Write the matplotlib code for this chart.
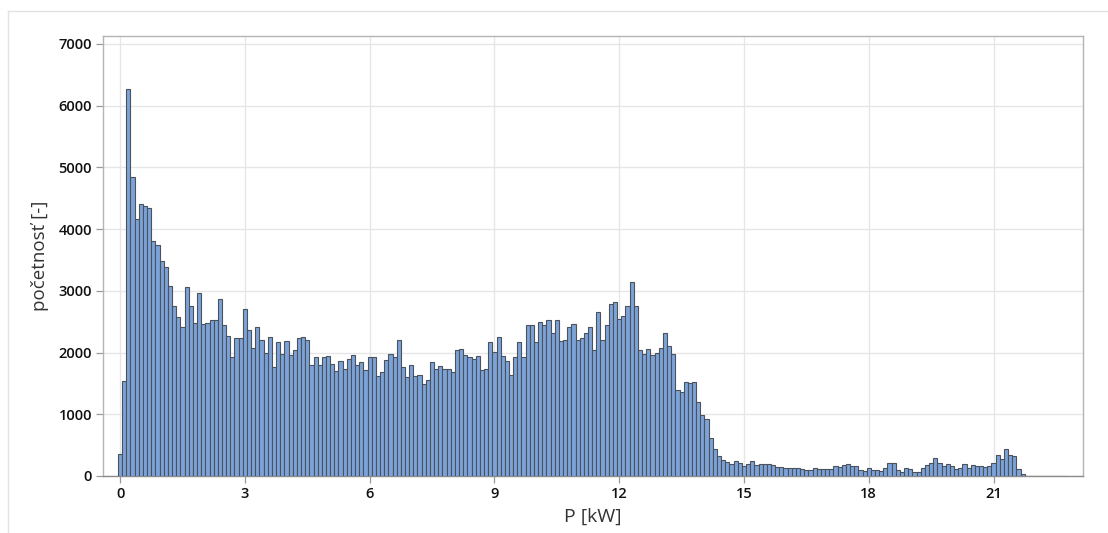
import numpy as np
import matplotlib
matplotlib.use("Agg")
import matplotlib.pyplot as plt
from matplotlib.lines import Line2D

plt.rcParams['font.family'] = ['Open Sans', 'DejaVu Sans']

# Histogram of power P [kW], bins 0.1 kW wide, centred on multiples of 0.1
bin_width = 0.1
counts = [
    360, 1540, 6270, 4850, 4170, 4410, 4380, 4350, 3800, 3740,
    3480, 3390, 3080, 2750, 2570, 2410, 3060, 2750, 2480, 2960,
    2470, 2480, 2520, 2520, 2870, 2440, 2270, 1930, 2230, 2230,
    2700, 2360, 2070, 2410, 2200, 2000, 2250, 1770, 2170, 1980,
    2190, 1960, 2040, 2240, 2260, 2210, 1800, 1920, 1800, 1930,
    1950, 1810, 1700, 1860, 1730, 1890, 1960, 1800, 1840, 1720,
    1930, 1920, 1620, 1680, 1880, 1980, 1920, 2200, 1770, 1600,
    1800, 1620, 1630, 1490, 1560, 1840, 1740, 1780, 1730, 1730,
    1680, 2040, 2050, 1960, 1920, 1900, 1940, 1710, 1740, 2170,
    2010, 2250, 1940, 1860, 1640, 1930, 2170, 1930, 2440, 2440,
    2170, 2490, 2440, 2520, 2320, 2520, 2190, 2200, 2410, 2470,
    2210, 2230, 2310, 2420, 2040, 2650, 2210, 2440, 2780, 2820,
    2550, 2590, 2750, 3140, 2760, 2040, 1980, 2050, 1960, 2000,
    2070, 2310, 2110, 1970, 1390, 1360, 1530, 1510, 1520, 1200,
    980, 920, 620, 430, 320, 255, 232, 200, 235, 205,
    157, 189, 243, 178, 189, 189, 200, 173, 140, 140,
    124, 130, 130, 124, 108, 97, 97, 124, 108, 108,
    119, 108, 154, 145, 178, 194, 157, 157, 97, 81,
    124, 97, 97, 81, 124, 211, 211, 97, 70, 135,
    108, 70, 70, 135, 178, 205, 286, 205, 157, 189,
    157, 110, 124, 189, 124, 178, 167, 157, 140, 167,
    216, 340, 281, 432, 346, 319, 119, 32, 6, 4,
    3, 2, 2, 1, 1, 1, 1, 1,
]
bin_centers = np.arange(len(counts)) * bin_width

x_ticks = [0, 3, 6, 9, 12, 15, 18, 21]
y_ticks = [0, 1000, 2000, 3000, 4000, 5000, 6000, 7000]
x_label = "P [kW]"
y_label = "početnosť [-]"

fig = plt.figure(figsize=(11.08, 5.33), dpi=100)
ax = fig.add_axes([0.093, 0.107, 0.8844, 0.8255])

ax.bar(bin_centers, counts, width=bin_width, align='center',
       color='#7ba3d9', edgecolor='#4b525c', linewidth=0.8, zorder=3)

ax.set_xlim(-0.41, 23.15)
ax.set_ylim(0, 7130)
ax.set_xticks(x_ticks)
ax.set_yticks(y_ticks)
ax.grid(True, color='#e6e6e6', linewidth=1.0, zorder=0)
ax.set_axisbelow(True)

for side in ax.spines.values():
    side.set_color('#b4b4b4')
    side.set_linewidth(1.0)
ax.spines['bottom'].set_color('#8a8a8a')

ax.tick_params(axis='both', direction='out', length=5, width=0.9,
               color='#9a9a9a', labelsize=10.5, labelcolor='#111111', pad=3)
for lbl in ax.get_xticklabels() + ax.get_yticklabels():
    lbl.set_fontweight('semibold')

ax.set_xlabel(x_label, fontsize=14, color='#333333', labelpad=5)
ax.set_ylabel(y_label, fontsize=13.5, color='#333333', labelpad=7)

# light page border along the top and left
fig.add_artist(Line2D([8 / 1108, 1.0], [1 - 11 / 533, 1 - 11 / 533],
                      transform=fig.transFigure, color='#e2e2e2', linewidth=1.0))
fig.add_artist(Line2D([8 / 1108, 8 / 1108], [0.0, 1 - 11 / 533],
                      transform=fig.transFigure, color='#e2e2e2', linewidth=1.0))

fig.savefig("out.png", dpi=100, facecolor='white')
